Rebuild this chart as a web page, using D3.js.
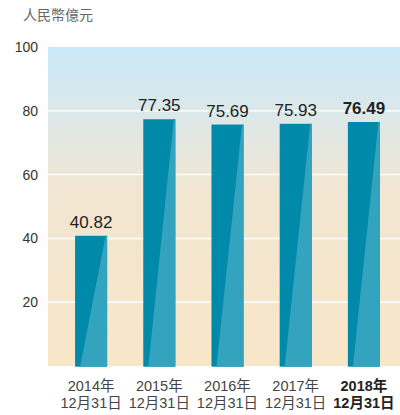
<!DOCTYPE html>
<html><head><meta charset="utf-8">
<script src="https://cdn.jsdelivr.net/npm/d3@7"></script>
<style>
html,body{margin:0;padding:0;background:#fff;}
text{font-family:"Liberation Sans",Arial,"Noto Sans CJK TC",sans-serif;}
</style></head>
<body><svg id="c" width="400" height="415"></svg>
<script>
const years = ["2014年","2015年","2016年","2017年","2018年"];
const dates = ["12月31日","12月31日","12月31日","12月31日","12月31日"];
const values = [40.82, 77.35, 75.69, 75.93, 76.49];
const yTicks = [20, 40, 60, 80, 100];
const unit = "人民幣億元";

const svg = d3.select("#c");
const plotL = 48, plotR = 400, plotT = 47, plotB = 366;
const x = d3.scaleBand().domain(years).range([57, 398]).paddingInner(0.53).paddingOuter(0.265);
const y = d3.scaleLinear().domain([0, 100]).range([plotB, plotT]);

const defs = svg.append("defs");
const g = defs.append("linearGradient").attr("id","bg").attr("x1",0).attr("y1",0).attr("x2",0).attr("y2",1);
g.append("stop").attr("offset","0%").attr("stop-color","#cae8f9");
g.append("stop").attr("offset","20%").attr("stop-color","#dbe8ea");
g.append("stop").attr("offset","45%").attr("stop-color","#f1e6d2");
g.append("stop").attr("offset","100%").attr("stop-color","#f8e6c8");

svg.append("rect").attr("x",plotL).attr("y",plotT).attr("width",plotR-plotL).attr("height",plotB-plotT).attr("fill","url(#bg)");

// gridlines
svg.selectAll(".grid").data(yTicks.filter(d=>d<100)).enter().append("line")
  .attr("x1",plotL).attr("x2",plotR).attr("y1",d=>y(d)).attr("y2",d=>y(d))
  .attr("stroke","#fff").attr("stroke-width",1.5);

// y labels
svg.selectAll(".yl").data(yTicks).enter().append("text")
  .attr("x",38).attr("y",d=>y(d)+5).attr("text-anchor","end")
  .attr("font-size",14).attr("fill","#333").text(d=>d);

svg.append("text").attr("x",23).attr("y",20).attr("font-size",14).attr("fill","#666").text(unit);

// bars
const bars = svg.selectAll(".bar").data(values).enter().append("g");
bars.append("rect")
  .attr("x",(d,i)=>x(years[i])).attr("y",d=>y(d))
  .attr("width",x.bandwidth()).attr("height",d=>plotB-y(d)+0.7)
  .attr("fill","#0089a8");
bars.append("path")
  .attr("d",(d,i)=>{
    const l = x(years[i]), r = l + x.bandwidth(), t = y(d), b = plotB+0.7;
    return `M${l+5},${b}L${r-1.5},${t}L${r},${t}L${r},${b}Z`;
  })
  .attr("fill","#34a3be");

// value labels
svg.selectAll(".vl").data(values).enter().append("text")
  .attr("x",(d,i)=>x(years[i])+x.bandwidth()/2).attr("y",d=>y(d)-8)
  .attr("text-anchor","middle").attr("font-size",17)
  .attr("font-weight",(d,i)=>i===values.length-1?"bold":"normal")
  .attr("fill","#222").text(d=>d.toFixed(2));

// x labels
const xl = svg.selectAll(".xl").data(years).enter().append("text")
  .attr("text-anchor","middle").attr("font-size",14.5)
  .attr("font-weight",(d,i)=>i===years.length-1?"bold":"normal")
  .attr("fill",(d,i)=>i===years.length-1?"#222":"#444");
xl.append("tspan").attr("x",d=>x(d)+x.bandwidth()/2).attr("y",391).text(d=>d);
xl.append("tspan").attr("x",d=>x(d)+x.bandwidth()/2).attr("y",408).text((d,i)=>dates[i]);
</script></body></html>
